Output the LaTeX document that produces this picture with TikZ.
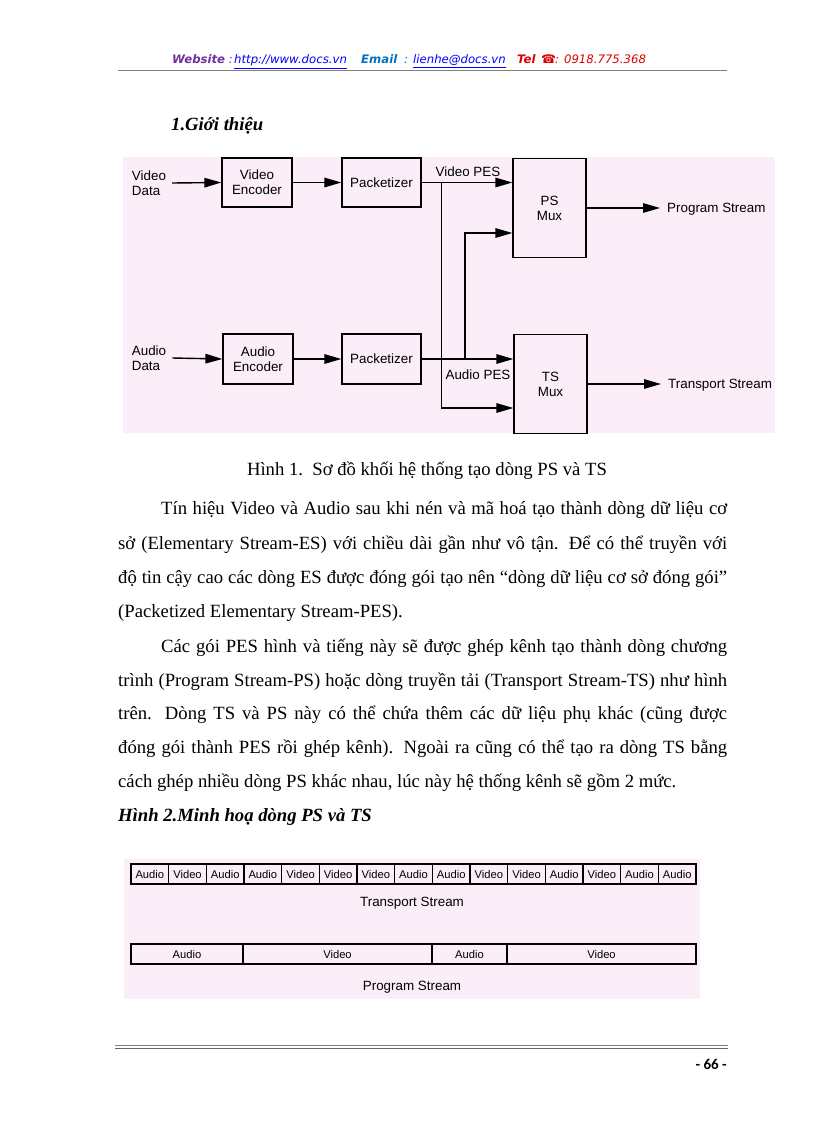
\documentclass[tikz,border=0pt]{standalone}
\usepackage{fontspec}
\setmainfont{Liberation Serif}
\setsansfont{Liberation Sans}
\newfontfamily\symfont{DejaVu Sans}
\newfontfamily\pagefont{Carlito}
\usepackage{xcolor}
\definecolor{bgpink}{RGB}{251,238,249}
\definecolor{hdrpurple}{RGB}{112,48,160}
\definecolor{hdrblue}{RGB}{0,112,192}
\definecolor{linkblue}{RGB}{0,0,255}
\definecolor{hdrred}{RGB}{220,0,0}
\usepackage{tikz}
\usetikzlibrary{arrows.meta,positioning,calc}
\tikzset{
  blk/.style={draw,line width=1.2pt,minimum width=70pt,minimum height=49pt,align=center,inner sep=0pt,font=\sffamily\fontsize{13.4}{15}\selectfont},
  mux/.style={blk,minimum width=73pt,minimum height=99pt},
  lbl/.style={align=left,inner sep=0pt,font=\sffamily\fontsize{13.4}{15}\selectfont},
  flow/.style={-{Triangle[length=17pt,width=9.5pt]},line width=1.4pt},
  cell/.style={draw,line width=1.2pt,minimum height=20pt,inner sep=0pt,font=\sffamily\fontsize{11.2}{12}\selectfont},
  body/.style={anchor=base west,inner sep=0pt,font=\fontsize{18.67}{22}\selectfont},
  head/.style={body,font=\bfseries\itshape\fontsize{18.67}{22}\selectfont},
  hdr/.style={anchor=base west,inner sep=0pt,font=\symfont\itshape\fontsize{11.7}{14}\selectfont},
}

\begin{document}
\begin{tikzpicture}[x=1pt,y=-1pt]
\useasboundingbox (0,0) rectangle (816,1123);
\fill[white] (0,0) rectangle (816,1123);

% page header
\node[hdr,text=hdrpurple] (hweb) at (172,64) {\textbf{Website} :};
\node[hdr,text=linkblue] (hurl) at (234,64) {\underline{http://www.docs.vn}};
\node[hdr,text=hdrblue] (hmail) at (361,64) {\textbf{Email}};
\node[hdr,text=hdrblue] (hcol) at (404,64) {:};
\node[hdr,text=linkblue] (haddr) at (413,64) {\underline{lienhe@docs.vn}};
\node[hdr,text=hdrred] (htel) at (517,64) {\textbf{Tel}};
\node[hdr,text=hdrred,font=\symfont\fontsize{12}{14}\selectfont] (hphone) at (541,64) {☎};
\node[hdr,text=hdrred] (hnum) at (555,64) {: 0918.775.368};
\draw[gray,line width=1.5pt] (118,70.5) -- (727,70.5);

% section title
\node[head] (sec1) at (171,131) {1.Giới thiệu};

% figure 1: block diagram
\fill[bgpink] (123,157) rectangle (775,433);
\node[blk] (venc) at (257,182.5) {Video\\Encoder};
\node[blk,minimum width=79pt] (vpack) at (381.5,182.5) {Packetizer};
\node[mux] (psmux) at (549.5,208) {PS\\Mux};
\node[blk,minimum height=50pt] (aenc) at (258,359) {Audio\\Encoder};
\node[blk,minimum width=79pt,minimum height=50pt] (apack) at (381.5,359) {Packetizer};
\node[mux] (tsmux) at (550.5,384) {TS\\Mux};
\node[lbl] (vdata) at (149,183) {Video\\Data};
\node[lbl] (adata) at (149,358) {Audio\\Data};
\node[lbl,anchor=west] (prog) at (667,209) {Program Stream};
\node[lbl,anchor=west] (trans) at (668,385) {Transport Stream};
\node[lbl] (vpes) at (468,172) {Video PES};
\node[lbl] (apes) at (478,375) {Audio PES};
\coordinate (vtap) at (441.5,182.5);
\coordinate (atap) at (465,359);

\draw[flow] ([xshift=6pt]vdata.east) -- (venc.west);
\draw[flow] (venc) -- (vpack);
\draw[flow] (vpack) -- (vpack -| psmux.west);
\draw[flow] (vtap) |- ([yshift=-24pt]tsmux.west);
\draw[flow] ([xshift=6pt]adata.east) -- (aenc.west);
\draw[flow] (aenc) -- (apack);
\draw[flow] (apack) -- (apack -| tsmux.west);
\draw[flow] (atap) |- ([yshift=-25pt]psmux.west);
\draw[flow,shorten >=7pt] (psmux.east) -- (psmux.east -| prog.west);
\draw[flow,shorten >=7pt] (tsmux.east) -- (tsmux.east -| trans.west);

% caption and text
\node[body,anchor=base] (cap1) at (427,475) {Hình 1.\ \ Sơ đồ khối hệ thống tạo dòng PS và TS};

\node[body] (p1a) at (161,514) {\makebox[566pt][s]{Tín hiệu Video và Audio sau khi nén và mã hoá tạo thành dòng dữ liệu cơ}};
\node[body] (p1b) at (118,549) {\makebox[609pt][s]{sở (Elementary Stream-ES) với chiều dài gần như vô tận. Để có thể truyền với}};
\node[body] (p1c) at (118,583) {\makebox[609pt][s]{độ tin cậy cao các dòng ES được đóng gói tạo nên “dòng dữ liệu cơ sở đóng gói”}};
\node[body] (p1d) at (118,617) {(Packetized Elementary Stream-PES).};

\node[body] (p2a) at (161,652) {\makebox[566pt][s]{Các gói PES hình và tiếng này sẽ được ghép kênh tạo thành dòng chương}};
\node[body] (p2b) at (118,686) {\makebox[609pt][s]{trình (Program Stream-PS) hoặc dòng truyền tải (Transport Stream-TS) như hình}};
\node[body] (p2c) at (118,719) {\makebox[609pt][s]{trên. Dòng TS và PS này có thể chứa thêm các dữ liệu phụ khác (cũng được}};
\node[body] (p2d) at (118,753) {\makebox[609pt][s]{đóng gói thành PES rồi ghép kênh). Ngoài ra cũng có thể tạo ra dòng TS bằng}};
\node[body] (p2e) at (118,787) {cách ghép nhiều dòng PS khác nhau, lúc này hệ thống kênh sẽ gồm 2 mức.};

\node[head] (sec2) at (118,821) {Hình 2.Minh hoạ dòng PS và TS};

% figure 2: stream layouts
\fill[bgpink] (124,859) rectangle (700,999);
\foreach \lab [count=\i] in {Audio,Video,Audio,Audio,Video,Video,Video,Audio,Audio,Video,Video,Audio,Video,Audio,Audio}
  \node[cell,minimum width=37.67pt] (ts\i) at ({131+37.67*(\i-0.5)},874) {\lab};
\node[lbl] (tslbl) at (412,903) {Transport Stream};
\foreach \xa/\xb/\lab [count=\i] in {131/243/Audio,243/432/Video,432/507/Audio,507/696/Video}
  \node[cell,minimum width={(\xb-\xa)*1pt}] (ps\i) at ({(\xa+\xb)/2},954) {\lab};
\node[lbl] (pslbl) at (412,987) {Program Stream};

% page footer
\draw[gray,line width=1.2pt] (115,1045.5) -- (728,1045.5);
\draw[gray!80!black,line width=1.5pt] (115,1048.5) -- (728,1048.5);
\node[anchor=base east,inner sep=0pt,font=\pagefont\bfseries\fontsize{15}{16}\selectfont] (pgno) at (727,1069) {- 66 -};
\end{tikzpicture}
\end{document}
